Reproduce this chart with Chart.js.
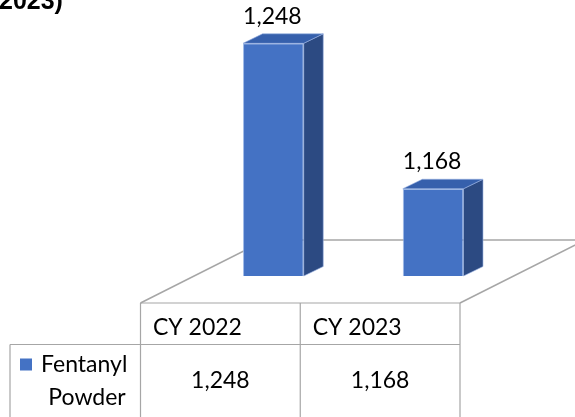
<!DOCTYPE html>
<html>
<head>
<meta charset="utf-8">
<script src="https://cdn.jsdelivr.net/npm/chart.js@4"></script>
<style>
html, body { margin: 0; padding: 0; background: #fff; overflow: hidden; }
#wrap { width: 575px; height: 417px; position: relative; }
</style>
</head>
<body>
<div id="wrap"><canvas id="chart"></canvas></div>
<script>
const titleTail = '2023)';
const categories = ['CY 2022', 'CY 2023'];
const seriesLines = ['Fentanyl', 'Powder'];
const fentanylPowder = [1248, 1168];

const axisMin = 1120, axisMax = 1260;
const FONT = 'Lato, "Open Sans", sans-serif';
const FRONT = '#4472C4', SIDE = '#2C4A82', TOP = '#3660AC';
const GRID = '#A6A6A6';
const DEPTH = { x: 19.5, y: -9.5 };
const FLOOR_FRONT = { x: -53, y: 27 };
const FLOOR_BACK = { x: 72, y: -36 };

const fmt = v => v.toLocaleString('en-US');

const bar3d = {
    id: 'bar3d',
    beforeDatasetsDraw(chart) {
        const { ctx, chartArea: a } = chart;
        const fl = a.left + FLOOR_FRONT.x, fr = a.right + FLOOR_FRONT.x, fy = a.bottom + FLOOR_FRONT.y;
        const bl = a.left + FLOOR_BACK.x, br = a.right + FLOOR_BACK.x, by = a.bottom + FLOOR_BACK.y;
        ctx.save();
        ctx.strokeStyle = GRID;
        ctx.lineWidth = 1.5;
        ctx.beginPath();
        ctx.moveTo(fl, fy);
        ctx.lineTo(bl, by);
        ctx.lineTo(br, by);
        ctx.lineTo(fr, fy);
        ctx.stroke();
        ctx.restore();
    },
    afterDatasetsDraw(chart) {
        const { ctx, chartArea: a } = chart;
        const meta = chart.getDatasetMeta(0);
        ctx.save();
        meta.data.forEach((bar, i) => {
            const x0 = bar.x - bar.width / 2, x1 = bar.x + bar.width / 2;
            const top = bar.y, bottom = Math.min(bar.base, a.bottom);
            // side face
            ctx.fillStyle = SIDE;
            ctx.beginPath();
            ctx.moveTo(x1, top);
            ctx.lineTo(x1 + DEPTH.x, top + DEPTH.y);
            ctx.lineTo(x1 + DEPTH.x, bottom + DEPTH.y);
            ctx.lineTo(x1, bottom);
            ctx.closePath();
            ctx.fill();
            ctx.strokeStyle = 'rgba(150,175,225,0.6)';
            ctx.lineWidth = 1;
            ctx.stroke();
            // top face
            ctx.fillStyle = TOP;
            ctx.beginPath();
            ctx.moveTo(x0, top);
            ctx.lineTo(x1, top);
            ctx.lineTo(x1 + DEPTH.x, top + DEPTH.y);
            ctx.lineTo(x0 + DEPTH.x, top + DEPTH.y);
            ctx.closePath();
            ctx.fill();
            ctx.stroke();
            // value label
            ctx.fillStyle = '#000';
            ctx.font = '23px ' + FONT;
            ctx.textAlign = 'center';
            ctx.textBaseline = 'alphabetic';
            ctx.fillText(fmt(fentanylPowder[i]), bar.x - 1, top + DEPTH.y - 10);
        });
        ctx.restore();
    },
    afterDraw(chart) {
        const { ctx, chartArea: a, scales } = chart;
        const xs = scales.x;
        const fl = a.left + FLOOR_FRONT.x, fr = a.right + FLOOR_FRONT.x, fy = a.bottom + FLOOR_FRONT.y;
        const step = (a.right - a.left) / categories.length;
        const rowY = fy + 41.5, endY = chart.height + 5, headLeft = 10;
        ctx.save();
        ctx.strokeStyle = GRID;
        ctx.lineWidth = 1.2;
        ctx.beginPath();
        ctx.moveTo(fl, fy); ctx.lineTo(fr, fy);
        ctx.moveTo(headLeft, rowY); ctx.lineTo(fr, rowY);
        ctx.moveTo(headLeft, rowY); ctx.lineTo(headLeft, endY);
        for (let i = 0; i <= categories.length; i++) {
            const x = fl + step * i;
            ctx.moveTo(x, fy); ctx.lineTo(x, endY);
        }
        ctx.stroke();

        ctx.fillStyle = '#000';
        ctx.font = '23px ' + FONT;
        ctx.textBaseline = 'middle';
        categories.forEach((c, i) => {
            const cl = xs.getPixelForValue(i) - step / 2 + FLOOR_FRONT.x;
            ctx.textAlign = 'left';
            ctx.fillText(c, cl + 12.5, fy + 25);
            ctx.textAlign = 'center';
            ctx.fillText(fmt(fentanylPowder[i]), cl + step / 2, rowY + 36);
        });

        // row header with legend key
        ctx.fillStyle = FRONT;
        ctx.fillRect(20, rowY + 14, 12, 12);
        ctx.fillStyle = '#000';
        ctx.textAlign = 'left';
        ctx.fillText(seriesLines[0], 41, rowY + 20);
        ctx.textAlign = 'center';
        ctx.fillText(seriesLines[1], 87, rowY + 53);

        // title tail (cut off at the top)
        ctx.font = 'bold 25px "Liberation Sans", Arial, sans-serif';
        ctx.textAlign = 'left';
        ctx.textBaseline = 'alphabetic';
        ctx.fillText(titleTail, -1, 9);
        ctx.restore();
    }
};

new Chart(document.getElementById('chart'), {
    type: 'bar',
    data: {
        labels: categories,
        datasets: [{
            label: seriesLines.join(' '),
            data: fentanylPowder,
            backgroundColor: FRONT,
            borderColor: 'rgba(150,180,230,0.9)',
            borderWidth: 1,
            barPercentage: 0.38,
            categoryPercentage: 1
        }]
    },
    options: {
        responsive: true,
        maintainAspectRatio: false,
        animation: false,
        layout: {
            padding: { top: 21.5, bottom: 141, left: 193.5, right: 62 }
        },
        plugins: {
            legend: { display: false },
            tooltip: { enabled: false }
        },
        scales: {
            x: { display: false },
            y: { display: false, min: axisMin, max: axisMax }
        }
    },
    plugins: [bar3d]
});
</script>
</body>
</html>
